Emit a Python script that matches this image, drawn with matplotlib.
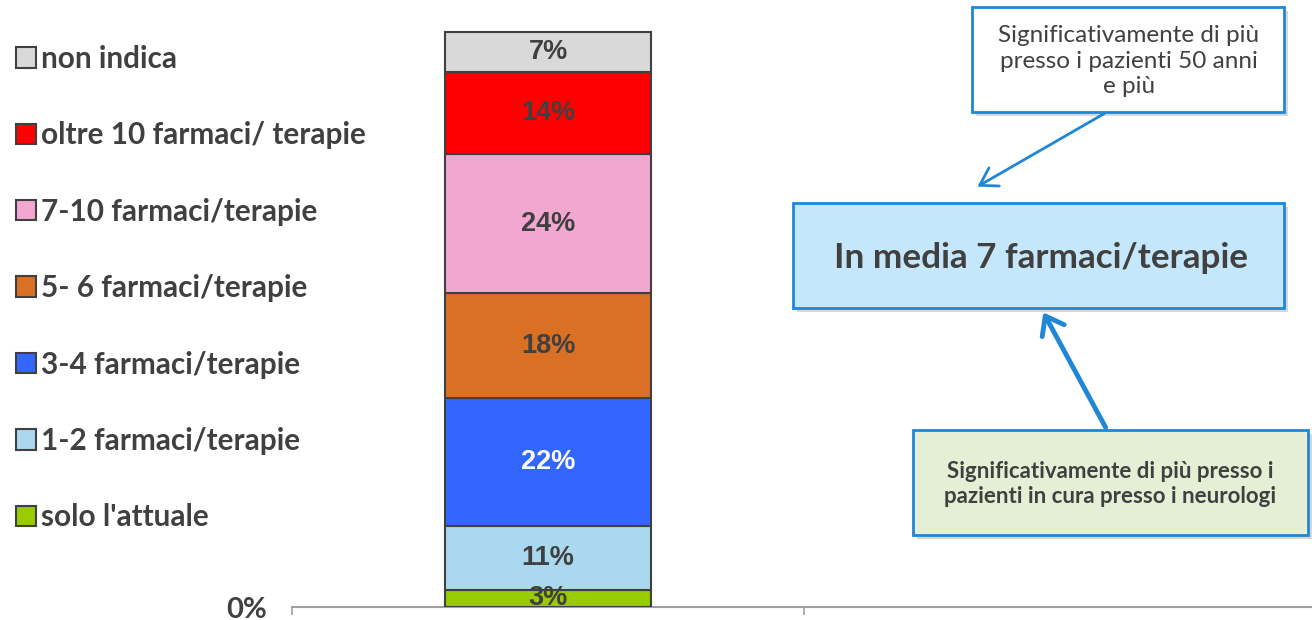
import numpy as np
import matplotlib.pyplot as plt
from matplotlib.patches import Rectangle, FancyArrowPatch

# dati
categorie = ["solo l'attuale", "1-2 farmaci/terapie", "3-4 farmaci/terapie",
             "5- 6 farmaci/terapie", "7-10 farmaci/terapie",
             "oltre 10 farmaci/ terapie", "non indica"]
valori = [3, 11, 22, 18, 24, 14, 7]
colori = ["#99cc00", "#a9d8ef", "#3366ff", "#d97023", "#f2a7d1", "#ff0000", "#d9d9d9"]
colori_testo = ["#404040", "#404040", "white", "#404040", "#404040", "#404040", "#404040"]
gruppi = [0, 1]

fig = plt.figure(figsize=(13.12, 6.2), dpi=100)
ax = fig.add_axes([292/1312, 13/620, 1024/1312, 581/620])

base = 0
handles = []
for cat, v, c, tc in zip(categorie, valori, colori, colori_testo):
    b = ax.bar(gruppi[0], v, width=0.403, bottom=base, color=c,
               edgecolor="#404040", linewidth=1.5, label=cat, zorder=3)
    handles.append(b)
    ax.text(gruppi[0], base + v / 2, f"{v}%", ha="center", va="center",
            fontsize=19.5, fontweight="bold", color=tc,
            family="Liberation Sans", zorder=4)
    base += v

ax.set_xlim(-0.5, 1.5)
ax.set_ylim(0, 100)
ax.set_xticks([-0.5, 0.5, 1.5])
ax.set_xticklabels([])
ax.tick_params(axis="x", length=6, color="#a0a0a0", direction="out", width=1.2)
ax.set_yticks([0])
ax.set_yticklabels(["0%"], fontsize=21, fontweight="bold", color="#404040",
                   family="Lato")
ax.tick_params(axis="y", length=0, pad=18)
for s in ["top", "right", "left"]:
    ax.spines[s].set_visible(False)
ax.spines["bottom"].set_color("#a0a0a0")
ax.spines["bottom"].set_linewidth(1.5)

# legenda
leg = fig.legend(handles[::-1], categorie[::-1], loc="upper left",
                 bbox_to_anchor=(-0.008, 0.971), frameon=False,
                 handlelength=0.68, handleheight=0.68, handletextpad=0.15,
                 labelspacing=1.63,
                 prop={"family": "Lato", "weight": "bold", "size": 21.4})
for t in leg.get_texts():
    t.set_color("#404040")

# riquadri di commento (coordinate in pixel)
ov = fig.add_axes([0, 0, 1, 1], zorder=5)
ov.set_xlim(0, 1312)
ov.set_ylim(620, 0)
ov.axis("off")
ov.patch.set_alpha(0)

blu = "#1f87d6"

def riquadro(x0, y0, x1, y1, fc):
    ov.add_patch(Rectangle((x0 + 4, y0 + 4), x1 - x0, y1 - y0,
                           facecolor="#b0b0b0", edgecolor="none", alpha=0.5))
    ov.add_patch(Rectangle((x0, y0), x1 - x0, y1 - y0,
                           facecolor=fc, edgecolor=blu, linewidth=2))

riquadro(972, 7, 1284, 112, "white")
ov.text(1129, 61, "Significativamente di più\npresso i pazienti 50 anni\ne più",
        ha="center", va="center", fontsize=17.5, color="#404040",
        family="Lato", linespacing=1.25)

riquadro(793, 203, 1284, 308, "#c5e7fc")
ov.text(1041, 258, "In media 7 farmaci/terapie", ha="center", va="center",
        fontsize=25.3, fontweight="bold", color="#404040", family="Lato")

riquadro(913, 430, 1308, 535, "#e4efd5")
ov.text(1110, 484, "Significativamente di più presso i\npazienti in cura presso i neurologi",
        ha="center", va="center", fontsize=16, fontweight="bold",
        color="#404040", family="Lato", linespacing=1.25)

ov.add_patch(FancyArrowPatch((1107, 112), (975, 188), arrowstyle="->,head_length=8,head_width=5",
                             color=blu, linewidth=2, mutation_scale=1.5))
ov.add_patch(FancyArrowPatch((1107, 430), (1042, 310), arrowstyle="->,head_length=8,head_width=6",
                             color=blu, linewidth=3.5, mutation_scale=1.5))

fig.savefig("out.png", dpi=100)
